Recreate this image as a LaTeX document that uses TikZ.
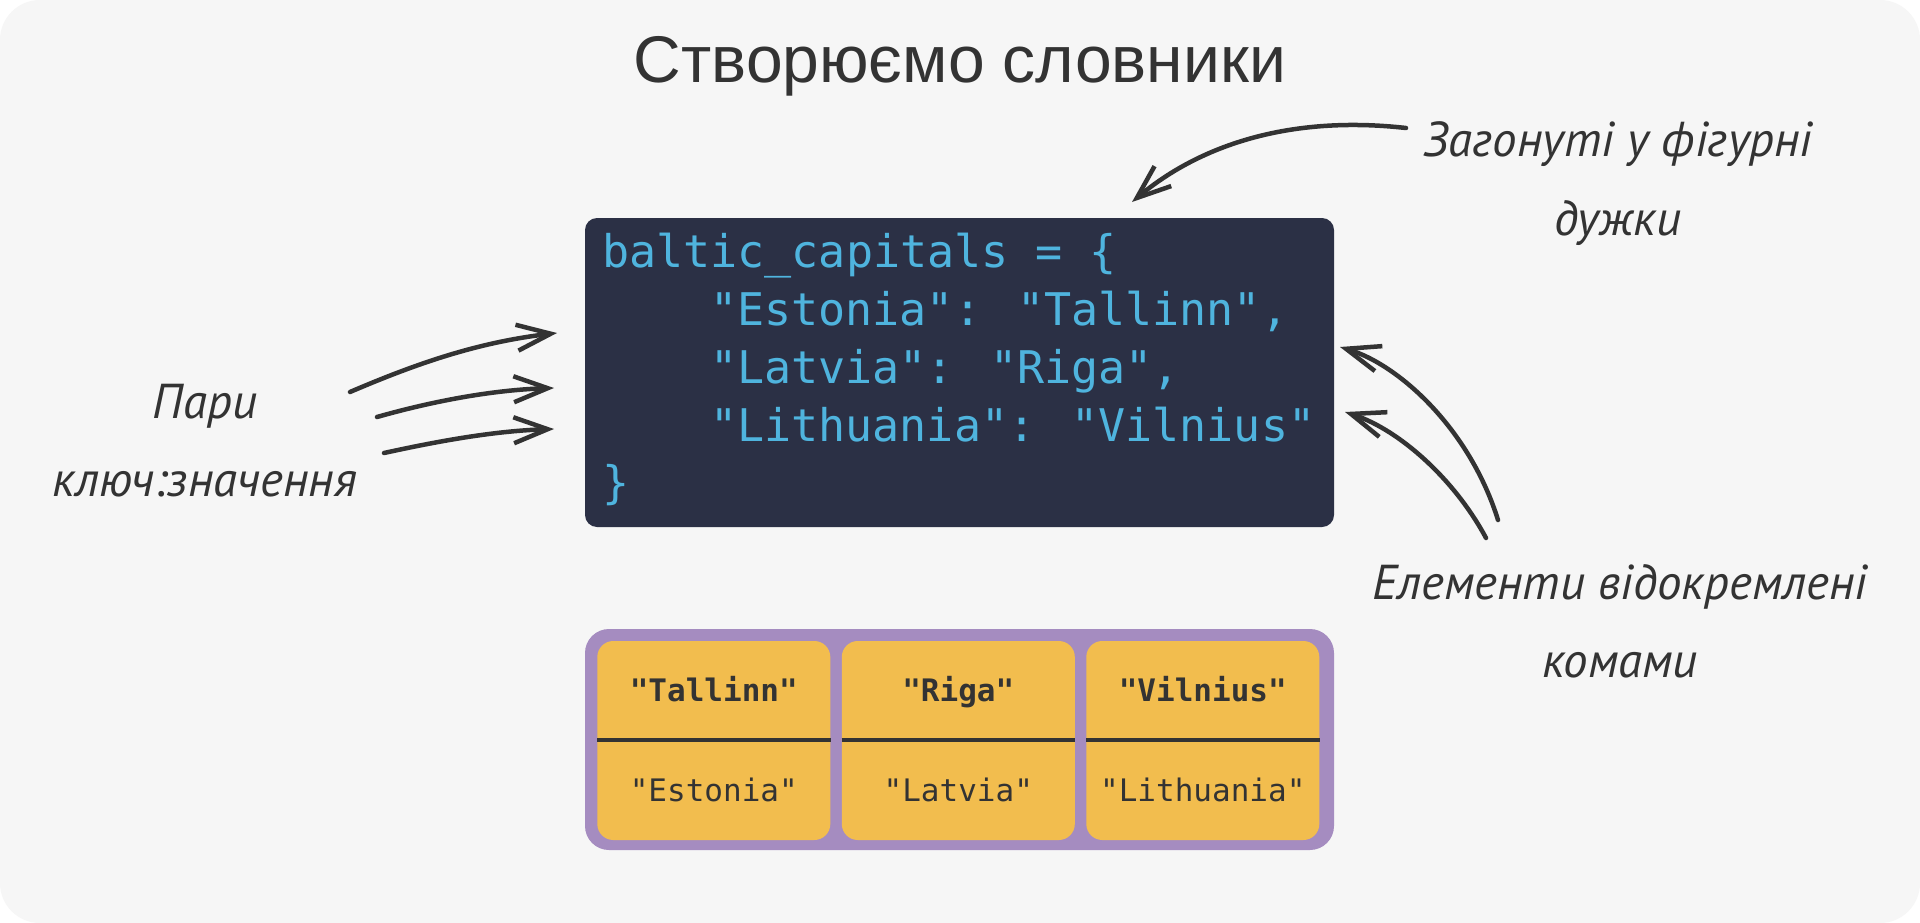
\documentclass[tikz,border=0pt]{standalone}
\usepackage{fontspec}
\setmainfont{Liberation Sans}
\newfontfamily\codefont{DejaVu Sans Mono}
\newfontfamily\handfont{PT Sans}
\usepackage{tikz}
\usetikzlibrary{arrows.meta}
\definecolor{bggray}{HTML}{F6F6F6}
\definecolor{navy}{HTML}{2B3045}
\definecolor{codeblue}{HTML}{4FB4DE}
\definecolor{lilac}{HTML}{A58CC0}
\definecolor{mustard}{HTML}{F2BD4E}
\definecolor{ink}{HTML}{333333}

\begin{document}
\begin{tikzpicture}[x=1pt,y=-1pt,
  codeline/.style={anchor=base west,inner sep=0pt,text=codeblue,font=\codefont\fontsize{45}{54}\selectfont},
  cellbox/.style={fill=mustard,rounded corners=16pt,minimum width=233pt,minimum height=199pt,inner sep=0pt},
  keytext/.style={anchor=base,inner sep=0pt,text=ink,font=\codefont\bfseries\fontsize{31}{36}\selectfont},
  valtext/.style={anchor=base,inner sep=0pt,text=ink,font=\codefont\fontsize{31}{36}\selectfont},
  hand/.style={anchor=base,inner sep=0pt,text=ink,font=\handfont\itshape\fontsize{49}{56}\selectfont},
  handarrow/.style={draw=ink,line width=4.5pt,line cap=round,-{Straight Barb[length=34pt,width=26pt]}}]
  \useasboundingbox (0,0) rectangle (1920,923);
  \fill[white] (0,0) rectangle (1920,923);
  \fill[bggray,rounded corners=40pt] (0,0) rectangle (1920,923);

  % title
  \node[anchor=base,inner sep=0pt,text=ink,font=\fontsize{66}{78}\selectfont] (title) at (960,83) {Створюємо словники};

  % code block
  \node[fill=navy,rounded corners=12pt,minimum width=749pt,minimum height=309pt,inner sep=0pt] (code) at (959.5,372.5) {};
  \node[codeline] (line1) at (602,267) {baltic{\char"5F}capitals = \{};
  \node[codeline] (line2) at (710,325) {"Estonia": "Tallinn",};
  \node[codeline] (line3) at (710,383) {"Latvia": "Riga",};
  \node[codeline] (line4) at (710,441) {"Lithuania": "Vilnius"};
  \node[codeline] (line5) at (602,498) {\}};

  % dictionary table
  \node[fill=lilac,rounded corners=24pt,minimum width=749pt,minimum height=221pt,inner sep=0pt] (frame) at (959.5,739.5) {};
  \foreach \k/\v [count=\i] in {Tallinn/Estonia,Riga/Latvia,Vilnius/Lithuania}{
    \node[cellbox] (cell\i) at (469.3+244.5*\i,740.5) {};
    \draw[ink,line width=4pt] (cell\i.west |- 0,739.5) -- (cell\i.east |- 0,739.5);
    \node[keytext] (key\i) at (cell\i |- 0,701) {"\k"};
    \node[valtext] (val\i) at (cell\i |- 0,801) {"\v"};
  }

  % notes
  \node[hand] (pairs) at (205,418) {Пари};
  \node[hand] (pairs2) at (205,496) {ключ:значення};
  \node[hand] (curly) at (1618,157) {Загонуті у фігурні};
  \node[hand] (curly2) at (1618,235) {дужки};
  \node[hand] (commas) at (1620,599) {Елементи відокремлені};
  \node[hand] (commas2) at (1620,677) {комами};

  \coordinate (ptail1) at (350,392); \coordinate (ptip1) at (557,333);
  \coordinate (ptail2) at (377,417); \coordinate (ptip2) at (554,388);
  \coordinate (ptail3) at (384,453); \coordinate (ptip3) at (554,429);
  \draw[handarrow] (ptail1) .. controls (420,362) and (480,342) .. (ptip1);
  \draw[handarrow] (ptail2) .. controls (430,402) and (490,390) .. (ptip2);
  \draw[handarrow] (ptail3) .. controls (430,443) and (490,431) .. (ptip3);

  \coordinate (ctail) at (1406,128); \coordinate (ctip) at (1132,202);
  \draw[handarrow] (ctail) .. controls (1290,115) and (1200,145) .. (ctip);

  \coordinate (etail1) at (1498,520); \coordinate (etip1) at (1340,347);
  \coordinate (etail2) at (1486,538); \coordinate (etip2) at (1345,412);
  \draw[handarrow] (etail1) .. controls (1470,430) and (1400,365) .. (etip1);
  \draw[handarrow] (etail2) .. controls (1455,480) and (1400,430) .. (etip2);
\end{tikzpicture}
\end{document}
